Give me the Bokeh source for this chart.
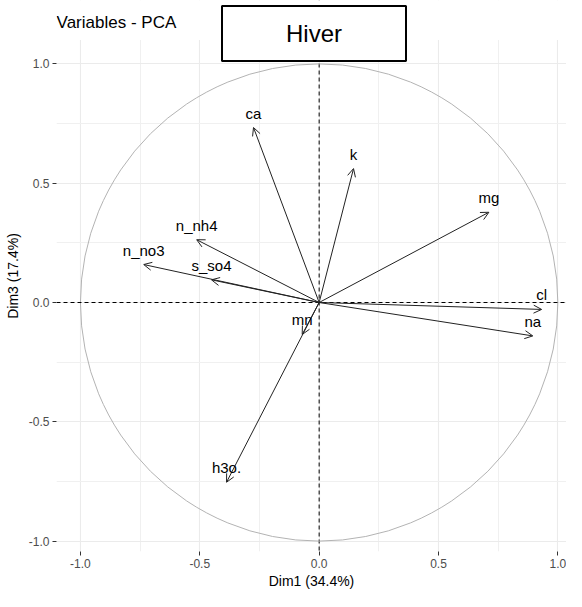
from bokeh.plotting import figure
from bokeh.models import (ColumnDataSource, Arrow, OpenHead, LabelSet, Label, Span, BoxAnnotation,
                          FixedTicker, PrintfTickFormatter, Range1d)
from bokeh.core.properties import value
from bokeh.embed import file_html
from bokeh.resources import INLINE

# ---- data ----
variables = ["ca", "k", "mg", "cl", "na", "mn", "h3o.", "n_nh4", "n_no3", "s_so4"]
dim1 = [-0.275, 0.144, 0.711, 0.932, 0.895, -0.071, -0.388, -0.513, -0.735, -0.451]
dim3 = [0.733, 0.561, 0.378, -0.029, -0.140, -0.134, -0.753, 0.263, 0.159, 0.095]
major_ticks = [-1.0, -0.5, 0.0, 0.5, 1.0]
minor_ticks = [-0.75, -0.25, 0.25, 0.75]
x_title = "Dim1 (34.4%)"
y_title = "Dim3 (17.4%)"
plot_title = "Variables - PCA"
box_title = "Hiver"

FONT = "Liberation Sans"
SCALE = 238.7          # px per unit
X0, Y0 = 318.65, 302   # pixel of the origin
W, H = 566, 591
BL, BR, BT, BB = 56, 0, 0, 40

p = figure(width=W, height=H, output_backend="svg", toolbar_location=None,
           x_range=Range1d((BL - X0) / SCALE, (W - BR - X0) / SCALE),
           y_range=Range1d((Y0 - (H - BB)) / SCALE, (Y0 - BT) / SCALE),
           min_border_left=BL, min_border_right=BR, min_border_top=BT, min_border_bottom=BB,
           background_fill_color="white", border_fill_color="white", outline_line_color=None)

for ax in (p.xaxis[0], p.yaxis[0]):
    ax.ticker = FixedTicker(ticks=major_ticks, minor_ticks=minor_ticks)
    ax.formatter = PrintfTickFormatter(format="%.1f")
    ax.axis_line_color = None
    ax.major_tick_line_color = "#333333"
    ax.major_tick_in = 0
    ax.major_tick_out = 4
    ax.minor_tick_line_color = None
    ax.major_label_text_font = FONT
    ax.major_label_text_font_size = "12px"
    ax.major_label_text_color = "#4d4d4d"
    ax.major_label_standoff = 3
    ax.axis_label_text_font = FONT
    ax.axis_label_text_font_size = "14px"
    ax.axis_label_text_font_style = "normal"
    ax.axis_label_text_color = "black"
    ax.axis_label_standoff = 2

p.yaxis[0].axis_label_standoff = 5
p.xaxis.axis_label = x_title
p.yaxis.axis_label = y_title

for g in (p.xgrid[0], p.ygrid[0]):
    g.grid_line_color = "#ebebeb"
    g.grid_line_width = 1.1
    g.minor_grid_line_color = "#f0f0f0"
    g.minor_grid_line_width = 1

# vertical dashed axis (under the white strip above the panel)
p.add_layout(Span(location=0, dimension="height", line_color="black", line_dash="4 3",
                  line_width=1, level="underlay"))
# white strip above the panel (panel ends at 1.1)
p.add_layout(BoxAnnotation(bottom=1.1, fill_color="white", fill_alpha=1, line_color=None,
                           level="underlay"))

# correlation circle
p.circle(x=[0], y=[0], radius=1, fill_color=None, line_color="#b3b3b3", line_width=1)

p.add_layout(Span(location=0, dimension="width", line_color="black", line_dash="4 3", line_width=1))

src = ColumnDataSource(dict(x=dim1, y=dim3, name=variables))
p.add_layout(Arrow(end=OpenHead(size=8, line_color="#222222", line_width=1),
                   x_start=0, y_start=0, x_end="x", y_end="y", source=src,
                   line_color="#222222", line_width=1))

p.add_layout(LabelSet(x="x", y="y", text="name", source=src, text_align="center",
                      text_baseline="alphabetic", y_offset=9, text_font=value(FONT),
                      text_font_size=value("15px"), text_color="black"))

p.add_layout(Label(x=-1.1, y=(Y0 - 22) / SCALE, text=plot_title, text_align="left",
                   text_baseline="middle", text_font=FONT, text_font_size="17px",
                   text_color="black"))

p.add_layout(Label(x=(313.5 - X0) / SCALE, y=(Y0 - 33) / SCALE, text=box_title,
                   text_align="center", text_baseline="middle",
                   text_font=FONT, text_font_size="24px", text_color="black",
                   background_fill_color="white", border_line_color="black", border_line_width=2,
                   padding=dict(left=64, right=64, top=14, bottom=14)))

open("out.html", "w").write(file_html(p, INLINE))
